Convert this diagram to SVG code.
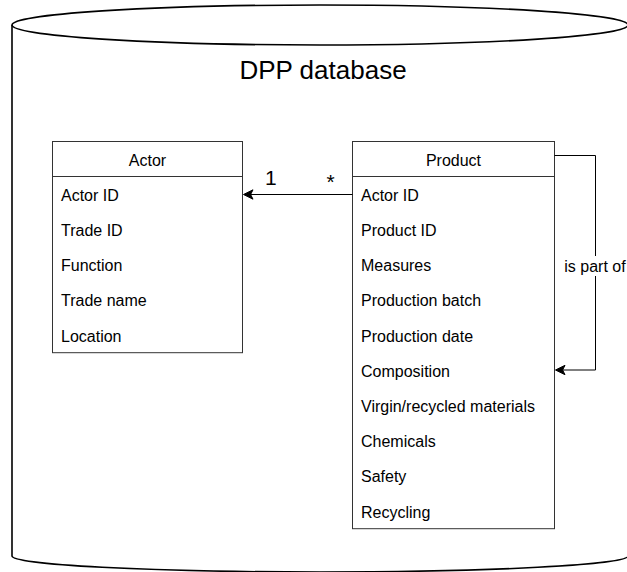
<svg xmlns="http://www.w3.org/2000/svg" width="627" height="572" viewBox="0 0 627 572">
  <style>
    text { font-family: "Liberation Sans", Arial, Helvetica, sans-serif; fill: #000; }
    .title { font-size: 26px; text-anchor: middle; }
    .head { font-size: 16px; text-anchor: middle; }
    .row { font-size: 16px; }
    .mult { font-size: 21px; }
    .lbl { font-size: 16px; text-anchor: middle; }
    .box { fill: #fff; stroke: #333; stroke-width: 1; }
    .sep { stroke: #333; stroke-width: 1; }
    .edge { fill: none; stroke: #000; stroke-width: 1; }
    .head-arrow { fill: #000; stroke: #000; stroke-width: 1; stroke-linejoin: miter; }
  </style>

  <!-- database cylinder -->
  <g id="dpp-database">
    <path d="M12,25 A308,20 0 0 1 628,25 L628,556 A308,16 0 0 1 12,556 Z" fill="#fff" stroke="#000" stroke-width="1.6"/>
    <path d="M12,25 A308,20 0 0 0 628,25" fill="none" stroke="#000" stroke-width="1.6"/>
    <text class="title" x="323" y="79">DPP database</text>
  </g>

  <!-- Actor table -->
  <g id="actor">
    <rect class="box" x="52.5" y="141.5" width="190" height="211.2"/>
    <line class="sep" x1="52.5" y1="176.5" x2="242.5" y2="176.5"/>
    <text class="head" x="147.5" y="166">Actor</text>
    <text class="row" x="61" y="200.7">Actor ID</text>
    <text class="row" x="61" y="235.9">Trade ID</text>
    <text class="row" x="61" y="271.1">Function</text>
    <text class="row" x="61" y="306.3">Trade name</text>
    <text class="row" x="61" y="341.5">Location</text>
  </g>

  <!-- Product table -->
  <g id="product">
    <rect class="box" x="352.5" y="141.5" width="202" height="387.2"/>
    <line class="sep" x1="352.5" y1="176.5" x2="554.5" y2="176.5"/>
    <text class="head" x="453.5" y="166">Product</text>
    <text class="row" x="361" y="200.7">Actor ID</text>
    <text class="row" x="361" y="235.9">Product ID</text>
    <text class="row" x="361" y="271.1">Measures</text>
    <text class="row" x="361" y="306.3">Production batch</text>
    <text class="row" x="361" y="341.5">Production date</text>
    <text class="row" x="361" y="376.7">Composition</text>
    <text class="row" x="361" y="411.9">Virgin/recycled materials</text>
    <text class="row" x="361" y="447.1">Chemicals</text>
    <text class="row" x="361" y="482.3">Safety</text>
    <text class="row" x="361" y="517.5">Recycling</text>
  </g>

  <!-- relations -->
  <g id="connectors">
    <!-- Product.Actor ID -> Actor -->
    <line class="edge" x1="352.5" y1="194.5" x2="250" y2="194.5"/>
    <path class="head-arrow" d="M243.5,194.5 L253,189.8 L250.6,194.5 L253,199.2 Z"/>
    <text class="mult" x="265" y="185">1</text>
    <text class="mult" x="330.5" y="189" text-anchor="middle">*</text>

    <!-- Product self relation -->
    <path class="edge" d="M554.5,155.5 H595.5 V370 H562"/>
    <path class="head-arrow" d="M555.5,370 L565,365.3 L562.6,370 L565,374.7 Z"/>
    <rect x="563" y="256" width="64" height="20" fill="#fff"/>
    <text class="lbl" x="595" y="272">is part of</text>
  </g>
</svg>
